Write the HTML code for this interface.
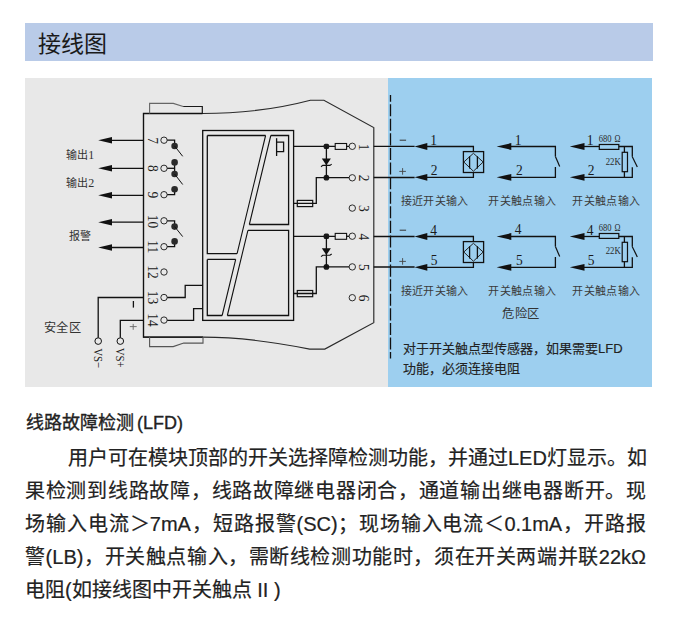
<!DOCTYPE html>
<html lang="zh-CN"><head><meta charset="utf-8">
<style>
html,body{margin:0;padding:0;background:#fff;width:686px;height:633px;overflow:hidden;font-family:"Liberation Sans",sans-serif;color:#222}
.abs{position:absolute;white-space:nowrap}
#hdr{left:25px;top:23px;width:628px;height:38px;background:#b9cbe8}
#hdr span{position:absolute;left:13px;top:2px;font-size:23px;color:#1a1a1a}
#gray{left:25px;top:78px;width:363px;height:309px;background:#e8e8e8}
#blue{left:388px;top:78px;width:264px;height:309px;background:#9dcfef}
#ttl{left:26px;top:408px;font-size:18px;color:#222;-webkit-text-stroke:0.35px #222}
.p{left:25px;width:621px;font-size:20px;color:#222;-webkit-text-stroke:0.2px #222;text-align:justify;text-align-last:justify}
.note{left:403px;font-size:13px;color:#222;-webkit-text-stroke:0.15px #222}
svg{position:absolute;left:0;top:0}
</style></head><body>
<div id="hdr" class="abs"><span>接线图</span></div>
<div id="gray" class="abs"></div>
<div id="blue" class="abs"></div>
<svg width="686" height="633" viewBox="0 0 686 633">
<path d="M143.5,113.5 H202.5 Q260,113.5 310.4,100.2 H323.9 L373.7,127.6 V322.7 L324.8,349.1 H309.7 Q250,337.1 203,337.1 H143.5 Z" stroke="#2a2a2a" stroke-width="1.1" fill="none"/>
<path d="M202.5,113.5 H143.5 V337.1 H203" stroke="#111" stroke-width="1.3" fill="none"/>
<path d="M149.6,113.5 V103.4 H173.3 L183.2,106.5" stroke="#666" stroke-width="1.1" fill="none"/>
<path d="M183.2,106.5 H202.3 V113.5" stroke="#1a1a1a" stroke-width="1.2" fill="none"/>
<path d="M149.6,337.1 V346.6 H173.2 L183.7,343.1 H203 V337.1" stroke="#555" stroke-width="1.1" fill="none"/>
<line x1="111.5" y1="140.3" x2="143.5" y2="140.3" stroke="#111" stroke-width="1.3"/>
<path d="M98.2,140.3 L112.0,137.0 L112.0,143.60 Z" fill="#111"/>
<line x1="111.5" y1="168.3" x2="143.5" y2="168.3" stroke="#111" stroke-width="1.3"/>
<path d="M98.2,168.3 L112.0,165.0 L112.0,171.60 Z" fill="#111"/>
<line x1="111.5" y1="195.3" x2="143.5" y2="195.3" stroke="#111" stroke-width="1.3"/>
<path d="M98.2,195.3 L112.0,192.0 L112.0,198.60 Z" fill="#111"/>
<line x1="111.5" y1="222.2" x2="143.5" y2="222.2" stroke="#111" stroke-width="1.3"/>
<path d="M98.2,222.2 L112.0,218.89 L112.0,225.5 Z" fill="#111"/>
<line x1="111.5" y1="247.5" x2="143.5" y2="247.5" stroke="#111" stroke-width="1.3"/>
<path d="M98.2,247.5 L112.0,244.2 L112.0,250.8 Z" fill="#111"/>
<path d="M143.5,297.5 H98.2 V337.7" stroke="#111" stroke-width="1.3" fill="none"/>
<path d="M143.5,320.3 H120.3 V337.7" stroke="#111" stroke-width="1.3" fill="none"/>
<circle cx="98.2" cy="341.1" r="3.3" stroke="#111" stroke-width="1.0" fill="none"/>
<circle cx="120.3" cy="341.1" r="3.3" stroke="#111" stroke-width="1.0" fill="none"/>
<circle cx="164.0" cy="140.2" r="3.2" stroke="#222" stroke-width="0.95" fill="none"/>
<circle cx="164.0" cy="168.3" r="3.2" stroke="#222" stroke-width="0.95" fill="none"/>
<circle cx="164.0" cy="194.7" r="3.2" stroke="#222" stroke-width="0.95" fill="none"/>
<circle cx="164.0" cy="220.8" r="3.2" stroke="#222" stroke-width="0.95" fill="none"/>
<circle cx="164.0" cy="246.7" r="3.2" stroke="#222" stroke-width="0.95" fill="none"/>
<circle cx="164.0" cy="272.0" r="3.2" stroke="#222" stroke-width="0.95" fill="none"/>
<circle cx="164.0" cy="297.5" r="3.2" stroke="#222" stroke-width="0.95" fill="none"/>
<circle cx="164.0" cy="320.1" r="3.2" stroke="#222" stroke-width="0.95" fill="none"/>
<path d="M167.2,140.2 H174.6 V146" stroke="#111" stroke-width="1.3" fill="none"/>
<circle cx="174.6" cy="146" r="3.3" fill="#2a2a2a"/>
<line x1="174.6" y1="146" x2="182.7" y2="156.3" stroke="#111" stroke-width="1.0"/>
<path d="M167.2,168.3 H174.6" stroke="#111" stroke-width="1.3" fill="none"/>
<line x1="174.6" y1="162.4" x2="174.6" y2="174" stroke="#111" stroke-width="1.3"/>
<circle cx="174.6" cy="162.4" r="3.3" fill="#2a2a2a"/>
<circle cx="174.6" cy="174" r="3.3" fill="#2a2a2a"/>
<line x1="174.6" y1="174" x2="182.7" y2="184.5" stroke="#111" stroke-width="1.0"/>
<path d="M167.2,194.7 H174.6 V189.3" stroke="#111" stroke-width="1.3" fill="none"/>
<circle cx="174.6" cy="189.3" r="3.3" fill="#2a2a2a"/>
<path d="M167.2,220.8 H174.6 V226.6" stroke="#111" stroke-width="1.3" fill="none"/>
<circle cx="174.6" cy="226.6" r="3.3" fill="#2a2a2a"/>
<line x1="174.6" y1="226.6" x2="182.7" y2="236.6" stroke="#111" stroke-width="1.0"/>
<path d="M167.2,246.7 H174.6 V241.4" stroke="#111" stroke-width="1.3" fill="none"/>
<circle cx="174.6" cy="241.4" r="3.3" fill="#2a2a2a"/>
<path d="M167.2,297.5 H185.2 V285.3 H202.7" stroke="#111" stroke-width="1.3" fill="none"/>
<path d="M167.2,320.3 H193.6 V308.6 H202.7" stroke="#111" stroke-width="1.3" fill="none"/>
<rect x="202.7" y="130.5" width="90.90" height="189.89" stroke="#111" stroke-width="1.3" fill="none"/>
<path d="M207.3,135.5 H265.60 M237.09,253.6 H207.3 V135.5" stroke="#111" stroke-width="1.3" fill="none"/>
<path d="M207.3,259.4 H235.69 M222.15,315.5 H207.3 V259.4" stroke="#111" stroke-width="1.3" fill="none"/>
<path d="M270.80,135.5 H288.6 V224.5 H249.32" stroke="#111" stroke-width="1.3" fill="none"/>
<path d="M247.92,230.3 H288.6 V315.5 H227.35" stroke="#111" stroke-width="1.3" fill="none"/>
<path d="M265.60,135.5 L237.09,253.6 M235.69,259.4 L222.15,315.5 M270.80,135.5 L249.32,224.5 M247.92,230.3 L227.35,315.5" stroke="#111" stroke-width="1.1" fill="none"/>
<path d="M276.6,138.2 V156" stroke="#111" stroke-width="1.3" fill="none"/>
<path d="M276.6,142.1 H283.6 V151.6 H276.6" stroke="#111" stroke-width="1.3" fill="none"/>
<circle cx="352.3" cy="146.3" r="3.2" stroke="#222" stroke-width="0.95" fill="none"/>
<circle cx="352.3" cy="177.8" r="3.2" stroke="#222" stroke-width="0.95" fill="none"/>
<circle cx="352.3" cy="208.1" r="3.2" stroke="#222" stroke-width="0.95" fill="none"/>
<circle cx="352.3" cy="236.2" r="3.2" stroke="#222" stroke-width="0.95" fill="none"/>
<circle cx="352.3" cy="266.9" r="3.2" stroke="#222" stroke-width="0.95" fill="none"/>
<circle cx="352.3" cy="297.7" r="3.2" stroke="#222" stroke-width="0.95" fill="none"/>
<line x1="293.6" y1="146.4" x2="335.2" y2="146.4" stroke="#111" stroke-width="1.3"/>
<rect x="335.2" y="143.5" width="11.40" height="5.90" stroke="#111" stroke-width="1.1" fill="none"/>
<line x1="346.6" y1="146.4" x2="349.1" y2="146.4" stroke="#111" stroke-width="1.3"/>
<rect x="323.7" y="143.70" width="5.4" height="5.4" rx="1.6" fill="#1a1a1a"/>
<circle cx="326.4" cy="177.7" r="2.9" fill="#1a1a1a"/>
<line x1="326.4" y1="146.4" x2="326.4" y2="177.7" stroke="#111" stroke-width="1.3"/>
<path d="M321.8,158.4 H330.9 L326.35,165.20 Z" fill="#111"/>
<path d="M321,166.70 L322.8,165.4 H329.9 L331.7,164.1" stroke="#111" stroke-width="1.1" fill="none"/>
<path d="M349.1,177.7 H316.3 V203.4 H293.6" stroke="#111" stroke-width="1.3" fill="none"/>
<rect x="297.3" y="200.4" width="15.39" height="6.19" stroke="#111" stroke-width="1.2" fill="none"/>
<line x1="293.6" y1="236.3" x2="335.2" y2="236.3" stroke="#111" stroke-width="1.3"/>
<rect x="335.2" y="233.4" width="11.40" height="5.90" stroke="#111" stroke-width="1.1" fill="none"/>
<line x1="346.6" y1="236.3" x2="349.1" y2="236.3" stroke="#111" stroke-width="1.3"/>
<rect x="323.7" y="233.60" width="5.4" height="5.4" rx="1.6" fill="#1a1a1a"/>
<circle cx="326.4" cy="266.9" r="2.9" fill="#1a1a1a"/>
<line x1="326.4" y1="236.3" x2="326.4" y2="266.9" stroke="#111" stroke-width="1.3"/>
<path d="M321.8,248.3 H330.9 L326.35,255.10 Z" fill="#111"/>
<path d="M321,256.6 L322.8,255.3 H329.9 L331.7,254.0" stroke="#111" stroke-width="1.1" fill="none"/>
<path d="M349.1,266.9 H316.3 V293.5 H293.6" stroke="#111" stroke-width="1.3" fill="none"/>
<rect x="297.3" y="290.5" width="15.39" height="6.19" stroke="#111" stroke-width="1.2" fill="none"/>
<line x1="373.7" y1="127.6" x2="373.7" y2="322.7" stroke="#555" stroke-width="1.1"/>
<line x1="373.7" y1="146.4" x2="414.6" y2="146.4" stroke="#111" stroke-width="1.3"/>
<line x1="373.7" y1="177.5" x2="414.6" y2="177.5" stroke="#111" stroke-width="1.3"/>
<line x1="373.7" y1="236.5" x2="414.6" y2="236.5" stroke="#111" stroke-width="1.3"/>
<line x1="373.7" y1="267.0" x2="414.6" y2="267.0" stroke="#111" stroke-width="1.3"/>
<line x1="390.5" y1="94.9" x2="390.5" y2="358.5" stroke="#111" stroke-width="1.3" stroke-dasharray="12.08 2.5" stroke-dashoffset="5.3"/>
<path d="M414.5,146.5 L427.3,143.1 L427.3,149.9 Z" fill="#111"/>
<path d="M414.5,177.3 L427.3,173.9 L427.3,180.70 Z" fill="#111"/>
<path d="M427,146.5 H473.4 V151.6" stroke="#111" stroke-width="1.3" fill="none"/>
<path d="M427,177.3 H473.4 V172.5" stroke="#111" stroke-width="1.3" fill="none"/>
<rect x="463.4" y="151.6" width="20.20" height="20.90" stroke="#111" stroke-width="1.3" fill="none"/>
<path d="M473.4,153.3 L483.2,162 L473.4,171.2 L463.8,162 Z" stroke="#222" stroke-width="1.0" fill="none"/>
<line x1="469.6" y1="156.3" x2="469.6" y2="168.6" stroke="#111" stroke-width="1.3"/>
<line x1="477.4" y1="156.3" x2="477.4" y2="168.6" stroke="#111" stroke-width="1.3"/>
<line x1="399.7" y1="140.2" x2="406.1" y2="140.2" stroke="#333" stroke-width="1.0"/>
<line x1="399.3" y1="171.4" x2="405.9" y2="171.4" stroke="#444" stroke-width="0.9"/>
<line x1="402.6" y1="168.1" x2="402.6" y2="174.7" stroke="#444" stroke-width="0.9"/>
<path d="M496.6,146.5 L511.3,143.1 L511.3,149.9 Z" fill="#111"/>
<path d="M496.6,177.3 L511.3,173.9 L511.3,180.70 Z" fill="#111"/>
<path d="M510.5,146.5 H555.4 V156.6" stroke="#111" stroke-width="1.3" fill="none"/>
<line x1="555.4" y1="156.6" x2="559.7" y2="166.6" stroke="#111" stroke-width="1.2"/>
<path d="M555.4,167.1 V177.3 H510.5" stroke="#111" stroke-width="1.3" fill="none"/>
<path d="M569.8,146.5 L584.5,143.1 L584.5,149.9 Z" fill="#111"/>
<path d="M569.8,177.3 L584.5,173.9 L584.5,180.70 Z" fill="#111"/>
<path d="M584,146.5 H599.3" stroke="#111" stroke-width="1.3" fill="none"/>
<rect x="599.3" y="144.5" width="19.5" height="4.90" stroke="#111" stroke-width="1.2" fill="none"/>
<path d="M618.8,146.5 H632.3 V156.8" stroke="#111" stroke-width="1.3" fill="none"/>
<line x1="632.3" y1="156.8" x2="637.3" y2="166.9" stroke="#111" stroke-width="1.2"/>
<path d="M632.3,167.2 V177.3 H584" stroke="#111" stroke-width="1.3" fill="none"/>
<line x1="624.4" y1="146.5" x2="624.4" y2="152.3" stroke="#111" stroke-width="1.3"/>
<rect x="622.2" y="152.3" width="5.29" height="19.39" stroke="#111" stroke-width="1.2" fill="none"/>
<line x1="624.4" y1="171.7" x2="624.4" y2="177.3" stroke="#111" stroke-width="1.3"/>
<path d="M414.5,236.5 L427.3,233.1 L427.3,239.9 Z" fill="#111"/>
<path d="M414.5,267.3 L427.3,263.90 L427.3,270.7 Z" fill="#111"/>
<path d="M427,236.5 H473.4 V241.6" stroke="#111" stroke-width="1.3" fill="none"/>
<path d="M427,267.3 H473.4 V262.5" stroke="#111" stroke-width="1.3" fill="none"/>
<rect x="463.4" y="241.6" width="20.20" height="20.90" stroke="#111" stroke-width="1.3" fill="none"/>
<path d="M473.4,243.3 L483.2,252 L473.4,261.2 L463.8,252 Z" stroke="#222" stroke-width="1.0" fill="none"/>
<line x1="469.6" y1="246.3" x2="469.6" y2="258.6" stroke="#111" stroke-width="1.3"/>
<line x1="477.4" y1="246.3" x2="477.4" y2="258.6" stroke="#111" stroke-width="1.3"/>
<line x1="399.7" y1="230.2" x2="406.1" y2="230.2" stroke="#333" stroke-width="1.0"/>
<line x1="399.3" y1="261.4" x2="405.9" y2="261.4" stroke="#444" stroke-width="0.9"/>
<line x1="402.6" y1="258.1" x2="402.6" y2="264.7" stroke="#444" stroke-width="0.9"/>
<path d="M496.6,236.5 L511.3,233.1 L511.3,239.9 Z" fill="#111"/>
<path d="M496.6,267.3 L511.3,263.90 L511.3,270.7 Z" fill="#111"/>
<path d="M510.5,236.5 H555.4 V246.6" stroke="#111" stroke-width="1.3" fill="none"/>
<line x1="555.4" y1="246.6" x2="559.7" y2="256.6" stroke="#111" stroke-width="1.2"/>
<path d="M555.4,257.1 V267.3 H510.5" stroke="#111" stroke-width="1.3" fill="none"/>
<path d="M569.8,236.5 L584.5,233.1 L584.5,239.9 Z" fill="#111"/>
<path d="M569.8,267.3 L584.5,263.90 L584.5,270.7 Z" fill="#111"/>
<path d="M584,236.5 H599.3" stroke="#111" stroke-width="1.3" fill="none"/>
<rect x="599.3" y="233.5" width="19.5" height="4.90" stroke="#111" stroke-width="1.2" fill="none"/>
<path d="M618.8,236.5 H632.3 V246.8" stroke="#111" stroke-width="1.3" fill="none"/>
<line x1="632.3" y1="246.8" x2="637.3" y2="256.9" stroke="#111" stroke-width="1.2"/>
<path d="M632.3,257.2 V267.3 H584" stroke="#111" stroke-width="1.3" fill="none"/>
<line x1="624.4" y1="236.5" x2="624.4" y2="242.3" stroke="#111" stroke-width="1.3"/>
<rect x="622.2" y="242.3" width="5.29" height="19.39" stroke="#111" stroke-width="1.2" fill="none"/>
<line x1="624.4" y1="261.7" x2="624.4" y2="267.3" stroke="#111" stroke-width="1.3"/>
<text transform="translate(152.6 140.5) rotate(90) scale(1 1.14)" x="0" y="4.46" font-size="13.5" font-family="Liberation Serif" text-anchor="middle" fill="#1a1a1a">7</text>
<text transform="translate(152.6 168.4) rotate(90) scale(1 1.14)" x="0" y="4.46" font-size="13.5" font-family="Liberation Serif" text-anchor="middle" fill="#1a1a1a">8</text>
<text transform="translate(152.6 194.9) rotate(90) scale(1 1.14)" x="0" y="4.46" font-size="13.5" font-family="Liberation Serif" text-anchor="middle" fill="#1a1a1a">9</text>
<text transform="translate(152.6 221.4) rotate(90) scale(1 1.14)" x="0" y="4.46" font-size="13.5" font-family="Liberation Serif" text-anchor="middle" fill="#1a1a1a">10</text>
<text transform="translate(152.6 246.8) rotate(90) scale(1 1.14)" x="0" y="4.46" font-size="13.5" font-family="Liberation Serif" text-anchor="middle" fill="#1a1a1a">11</text>
<text transform="translate(152.6 271.9) rotate(90) scale(1 1.14)" x="0" y="4.46" font-size="13.5" font-family="Liberation Serif" text-anchor="middle" fill="#1a1a1a">12</text>
<text transform="translate(152.6 297.5) rotate(90) scale(1 1.14)" x="0" y="4.46" font-size="13.5" font-family="Liberation Serif" text-anchor="middle" fill="#1a1a1a">13</text>
<text transform="translate(152.6 320.0) rotate(90) scale(1 1.14)" x="0" y="4.46" font-size="13.5" font-family="Liberation Serif" text-anchor="middle" fill="#1a1a1a">14</text>
<text transform="translate(364.2 147) rotate(90) scale(1 1.14)" x="0" y="4.46" font-size="13.5" font-family="Liberation Serif" text-anchor="middle" fill="#1a1a1a">1</text>
<text transform="translate(364.2 178) rotate(90) scale(1 1.14)" x="0" y="4.46" font-size="13.5" font-family="Liberation Serif" text-anchor="middle" fill="#1a1a1a">2</text>
<text transform="translate(364.2 208.4) rotate(90) scale(1 1.14)" x="0" y="4.46" font-size="13.5" font-family="Liberation Serif" text-anchor="middle" fill="#1a1a1a">3</text>
<text transform="translate(364.2 236.8) rotate(90) scale(1 1.14)" x="0" y="4.46" font-size="13.5" font-family="Liberation Serif" text-anchor="middle" fill="#1a1a1a">4</text>
<text transform="translate(364.2 267.4) rotate(90) scale(1 1.14)" x="0" y="4.46" font-size="13.5" font-family="Liberation Serif" text-anchor="middle" fill="#1a1a1a">5</text>
<text transform="translate(364.2 298.2) rotate(90) scale(1 1.14)" x="0" y="4.46" font-size="13.5" font-family="Liberation Serif" text-anchor="middle" fill="#1a1a1a">6</text>
<text transform="translate(98.2 358.2) rotate(90) scale(0.8 1)" x="0" y="4.45" font-size="13.5" font-family="Liberation Serif" text-anchor="middle" fill="#1a1a1a">VS−</text>
<text transform="translate(120.2 357.7) rotate(90) scale(0.8 1)" x="0" y="4.45" font-size="13.5" font-family="Liberation Serif" text-anchor="middle" fill="#1a1a1a">VS+</text>
<line x1="133.4" y1="301" x2="133.4" y2="307.6" stroke="#111" stroke-width="1.3"/>
<path d="M129.8,326.6 H136.7 M133.2,323.9 V329.8" stroke="#666" stroke-width="0.9" fill="none"/>
<text transform="translate(433.5 144.7) scale(1 1.14)" x="0" y="0" font-size="13.5" font-family="Liberation Serif" text-anchor="middle" fill="#1a1a1a">1</text>
<text transform="translate(434.2 175.0) scale(1 1.14)" x="0" y="0" font-size="13.5" font-family="Liberation Serif" text-anchor="middle" fill="#1a1a1a">2</text>
<text transform="translate(518 144.5) scale(1 1.14)" x="0" y="0" font-size="13.5" font-family="Liberation Serif" text-anchor="middle" fill="#1a1a1a">1</text>
<text transform="translate(519.4 174.9) scale(1 1.14)" x="0" y="0" font-size="13.5" font-family="Liberation Serif" text-anchor="middle" fill="#1a1a1a">2</text>
<text transform="translate(590 145.0) scale(1 1.14)" x="0" y="0" font-size="13.5" font-family="Liberation Serif" text-anchor="middle" fill="#1a1a1a">1</text>
<text transform="translate(591 175.1) scale(1 1.14)" x="0" y="0" font-size="13.5" font-family="Liberation Serif" text-anchor="middle" fill="#1a1a1a">2</text>
<text transform="translate(598.8 142.0) scale(0.95 1.17)" x="0" y="0" font-size="9" font-family="Liberation Serif" fill="#2a2a2a">680</text>
<text transform="translate(617.6 142.0) scale(0.95 1.1)" x="0" y="0" font-size="8.5" font-family="Liberation Serif" text-anchor="middle" fill="#2a2a2a">Ω</text>
<text transform="translate(613.2 164.9) scale(0.97 1.17)" x="0" y="0" font-size="9" font-family="Liberation Serif" text-anchor="middle" fill="#2a2a2a">22K</text>
<text x="434.6" y="200.9" font-size="11" font-family="Liberation Sans" text-anchor="middle" dominant-baseline="central" fill="#3a3a3a" letter-spacing="0.35">接近开关输入</text>
<text x="522.4" y="200.9" font-size="11" font-family="Liberation Sans" text-anchor="middle" dominant-baseline="central" fill="#3a3a3a" letter-spacing="0.35">开关触点输入</text>
<text x="606.3" y="200.9" font-size="11" font-family="Liberation Sans" text-anchor="middle" dominant-baseline="central" fill="#3a3a3a" letter-spacing="0.35">开关触点输入</text>
<text transform="translate(433.5 234.51) scale(1 1.14)" x="0" y="0" font-size="13.5" font-family="Liberation Serif" text-anchor="middle" fill="#1a1a1a">4</text>
<text transform="translate(434.2 264.82) scale(1 1.14)" x="0" y="0" font-size="13.5" font-family="Liberation Serif" text-anchor="middle" fill="#1a1a1a">5</text>
<text transform="translate(518 234.32) scale(1 1.14)" x="0" y="0" font-size="13.5" font-family="Liberation Serif" text-anchor="middle" fill="#1a1a1a">4</text>
<text transform="translate(519.4 264.72) scale(1 1.14)" x="0" y="0" font-size="13.5" font-family="Liberation Serif" text-anchor="middle" fill="#1a1a1a">5</text>
<text transform="translate(590 234.82) scale(1 1.14)" x="0" y="0" font-size="13.5" font-family="Liberation Serif" text-anchor="middle" fill="#1a1a1a">4</text>
<text transform="translate(591 264.91) scale(1 1.14)" x="0" y="0" font-size="13.5" font-family="Liberation Serif" text-anchor="middle" fill="#1a1a1a">5</text>
<text transform="translate(598.8 230.8) scale(0.95 1.17)" x="0" y="0" font-size="9" font-family="Liberation Serif" fill="#2a2a2a">680</text>
<text transform="translate(617.6 230.8) scale(0.95 1.1)" x="0" y="0" font-size="8.5" font-family="Liberation Serif" text-anchor="middle" fill="#2a2a2a">Ω</text>
<text transform="translate(613.2 254.20) scale(0.97 1.17)" x="0" y="0" font-size="9" font-family="Liberation Serif" text-anchor="middle" fill="#2a2a2a">22K</text>
<text x="434.6" y="290.9" font-size="11" font-family="Liberation Sans" text-anchor="middle" dominant-baseline="central" fill="#3a3a3a" letter-spacing="0.35">接近开关输入</text>
<text x="522.4" y="290.9" font-size="11" font-family="Liberation Sans" text-anchor="middle" dominant-baseline="central" fill="#3a3a3a" letter-spacing="0.35">开关触点输入</text>
<text x="606.3" y="290.9" font-size="11" font-family="Liberation Sans" text-anchor="middle" dominant-baseline="central" fill="#3a3a3a" letter-spacing="0.35">开关触点输入</text>
<text x="80.3" y="154.9" font-size="11" font-family="Liberation Sans" text-anchor="middle" dominant-baseline="central" fill="#333">输出<tspan font-family="Liberation Serif" font-size="12">1</tspan></text>
<text x="80.3" y="182.6" font-size="11" font-family="Liberation Sans" text-anchor="middle" dominant-baseline="central" fill="#333">输出<tspan font-family="Liberation Serif" font-size="12">2</tspan></text>
<text x="80.2" y="236.0" font-size="11" font-family="Liberation Sans" text-anchor="middle" dominant-baseline="central" fill="#333" letter-spacing="0.2">报警</text>
<text x="62.6" y="328.0" font-size="12.2" font-family="Liberation Sans" text-anchor="middle" dominant-baseline="central" fill="#333" letter-spacing="0.3">安全区</text>
<text x="520.9" y="313.7" font-size="12.3" font-family="Liberation Sans" text-anchor="middle" dominant-baseline="central" fill="#333" letter-spacing="0.4">危险区</text>
</svg>
<div class="abs note" style="top:338px">对于开关触点型传感器，如果需要LFD</div>
<div class="abs note" style="top:358px">功能，必须连接电阻</div>
<div id="ttl" class="abs">线路故障检测<span style="margin-left:3px">(LFD)</span></div>
<div class="abs p" style="top:442px;text-indent:43px">用户可在模块顶部的开关选择障检测功能，并通过LED灯显示。如</div>
<div class="abs p" style="top:475px">果检测到线路故障，线路故障继电器闭合，通道输出继电器断开。现</div>
<div class="abs p" style="top:508px">场输入电流＞7mA，短路报警(SC)；现场输入电流＜0.1mA，开路报</div>
<div class="abs p" style="top:541px">警(LB)，开关触点输入，需断线检测功能时，须在开关两端并联22kΩ</div>
<div class="abs p" style="top:574px;text-align-last:left">电阻(如接线图中开关触点 II )</div>
</body></html>
